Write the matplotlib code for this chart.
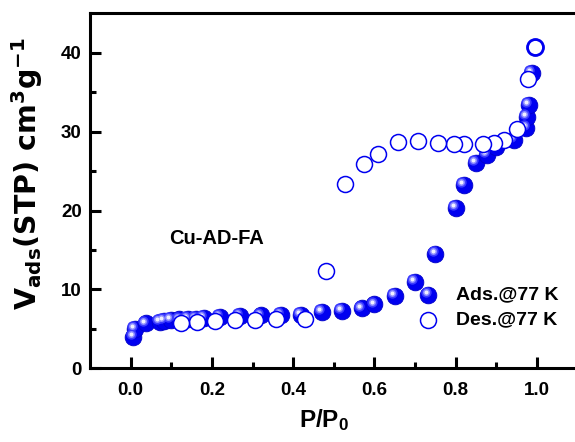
import numpy as np
import matplotlib.pyplot as plt
import matplotlib.transforms as mtransforms

plt.rcParams['font.family'] = 'Liberation Sans'
plt.rcParams['font.weight'] = 'bold'
plt.rcParams['axes.labelweight'] = 'bold'
plt.rcParams['mathtext.default'] = 'regular'

# adsorption branch (filled)
p_ads = [0.007, 0.010, 0.037, 0.072, 0.082, 0.100, 0.120, 0.140, 0.160, 0.180,
         0.220, 0.270, 0.320, 0.370, 0.420, 0.470, 0.520, 0.570, 0.600, 0.650,
         0.700, 0.750, 0.800, 0.820, 0.850, 0.877, 0.900, 0.944, 0.974, 0.975,
         0.980, 0.988]
v_ads = [4.0, 5.0, 5.7, 5.9, 6.0, 6.1, 6.2, 6.3, 6.3, 6.4,
         6.5, 6.6, 6.7, 6.75, 6.8, 7.1, 7.3, 7.6, 8.1, 9.2,
         11.0, 14.5, 20.3, 23.3, 26.0, 27.1, 28.0, 29.0, 30.5, 31.9,
         33.4, 37.5]

# desorption branch (open)
p_des = [0.996, 0.977, 0.952, 0.918, 0.895, 0.867, 0.820, 0.795, 0.757, 0.707,
         0.657, 0.608, 0.575, 0.527, 0.481, 0.430, 0.357, 0.307, 0.256, 0.207,
         0.164, 0.123]
v_des = [40.8, 36.7, 30.4, 28.9, 28.6, 28.5, 28.4, 28.5, 28.6, 28.8,
         28.75, 27.2, 25.9, 23.4, 12.4, 6.3, 6.2, 6.1, 6.1, 6.0,
         5.9, 5.8]

blue = '#0000f0'
ms_ball = 12
ms_open = 11.5
shade = [(0.62, '#3c3cff'), (0.42, '#8c8cff'), (0.24, '#f0f0ff')]

fig = plt.figure(figsize=(5.75, 4.42), dpi=100)
ax = fig.add_axes([0.1565, 0.1667, 0.848, 0.803])


def balls(x, y, trans, ms, clip=True):
    # shaded sphere look: dark base + light highlight shifted up-left
    ax.plot(x, y, 'o', ms=ms, mfc=blue, mec='#0000c8', mew=0.6, ls='none',
            transform=trans, clip_on=clip, zorder=3)
    for frac, col in shade:
        tr = mtransforms.offset_copy(trans, fig=fig, x=-ms * 0.17,
                                     y=ms * 0.17, units='points')
        ax.plot(x, y, 'o', ms=ms * frac, mfc=col, mec='none', ls='none',
                transform=tr, clip_on=clip, zorder=3)


balls(p_ads, v_ads, ax.transData, ms_ball)
ax.plot(p_des, v_des, 'o', ms=ms_open, mfc='white', mec=blue, mew=1.1,
        ls='none', zorder=4)
ax.plot(p_des[:1], v_des[:1], 'o', ms=ms_open, mfc='none', mec=blue, mew=2.0,
        ls='none', zorder=5)

# legend drawn by hand in axes coordinates
lx, ty, dy = 0.694, 0.207, 0.070
balls([lx], [ty], ax.transAxes, ms_ball, clip=False)
ax.plot([lx], [ty - dy], 'o', ms=ms_open, mfc='white', mec=blue, mew=1.1,
        transform=ax.transAxes, zorder=4)
ax.text(lx + 0.057, ty, 'Ads.@77 K', transform=ax.transAxes, fontsize=14,
        va='center', ha='left')
ax.text(lx + 0.057, ty - dy, 'Des.@77 K', transform=ax.transAxes, fontsize=14,
        va='center', ha='left')

ax.text(0.094, 16.4, 'Cu-AD-FA', fontsize=14.5, va='center')

ax.set_xlim(-0.1, 1.1)
ax.set_ylim(0, 45)
ax.set_xticks([0.0, 0.2, 0.4, 0.6, 0.8, 1.0])
ax.set_xticks(np.arange(0.1, 1.0, 0.2), minor=True)
ax.set_yticks([0, 10, 20, 30, 40])
ax.set_yticks([5, 15, 25, 35], minor=True)
ax.xaxis.set_major_formatter(plt.FormatStrFormatter('%.1f'))

for s in ax.spines.values():
    s.set_linewidth(2.2)
ax.tick_params(which='major', direction='in', length=8, width=2.2,
               labelsize=13.5)
ax.tick_params(which='minor', direction='in', length=4.5, width=2.2)
ax.tick_params(axis='x', pad=10)
ax.tick_params(axis='y', pad=6)

ax.set_xlabel('P/P$_0$', fontsize=17.5, fontweight='bold')
ax.xaxis.set_label_coords(0.48, -0.11, transform=ax.transAxes)
ax.xaxis.label.set_va('top')
ax.set_ylabel('V$_{ads}$(STP) cm$^3$g$^{-1}$', fontsize=20.5,
              family='DejaVu Sans', fontweight='bold')
ax.yaxis.set_label_coords(-0.092, 0.55)

fig.savefig('out.png', dpi=100)
